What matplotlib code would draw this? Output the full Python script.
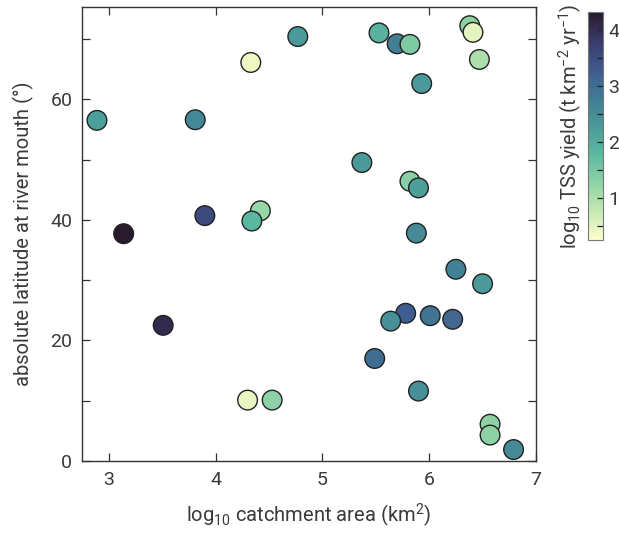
import matplotlib
matplotlib.use("Agg")
import matplotlib.pyplot as plt
import numpy as np
from matplotlib.colors import LinearSegmentedColormap, Normalize
from matplotlib.ticker import MultipleLocator

# data: log10 catchment area, absolute latitude, log10 TSS yield
log_area = [2.89, 3.14, 3.51, 3.81, 3.90, 4.33, 4.42, 4.34, 4.77, 4.30, 4.53,
            5.53, 5.70, 5.82, 6.38, 6.41, 6.47, 5.93, 5.37, 5.82, 5.90, 5.88,
            6.25, 6.50, 5.78, 5.64, 6.01, 6.22, 5.49, 5.90, 6.57, 6.57, 6.79]
latitude = [56.5, 37.7, 22.5, 56.6, 40.7, 66.1, 41.5, 39.8, 70.4, 10.1, 10.1,
            71.0, 69.2, 69.1, 72.2, 71.1, 66.6, 62.6, 49.5, 46.4, 45.3, 37.8,
            31.8, 29.4, 24.5, 23.2, 24.1, 23.5, 17.0, 11.6, 6.1, 4.3, 1.9]
tss_yield = [2.2, 4.3, 4.05, 2.6, 3.55, 0.4, 1.2, 1.8, 2.3, 0.45, 1.3,
             1.9, 2.75, 1.45, 1.3, 0.5, 1.0, 2.3, 2.3, 1.35, 2.2, 2.55,
             2.7, 2.3, 3.25, 2.45, 2.9, 3.1, 3.0, 2.45, 1.3, 1.3, 2.55]

plt.rcParams['font.family'] = ['Roboto', 'DejaVu Sans']
plt.rcParams['font.weight'] = 'normal'
plt.rcParams['mathtext.default'] = 'regular'
tc = '#3a3a3a'
plt.rcParams['text.color'] = tc
plt.rcParams['axes.labelcolor'] = tc
plt.rcParams['xtick.labelcolor'] = tc
plt.rcParams['ytick.labelcolor'] = tc

deep = LinearSegmentedColormap.from_list('deep', [
    (0.0, '#fdfecc'), (0.125, '#c6e9b2'), (0.25, '#8fd3a5'), (0.375, '#5cb9a0'),
    (0.5, '#4a9a99'), (0.625, '#417b94'), (0.75, '#3f5a8f'), (0.875, '#3b3a6a'),
    (1.0, '#281a2c')])

fig = plt.figure(figsize=(6.19, 5.33), dpi=100)
ax = fig.add_axes([82/619, 1-461/533, (536-82)/619, (461-7)/533])
cax = fig.add_axes([588/619, 1-240/533, 15/619, (240-12)/533])

norm = Normalize(vmin=0.25, vmax=4.33)
sc = ax.scatter(log_area, latitude, c=tss_yield, cmap=deep, norm=norm, s=200,
                edgecolors='#222222', linewidths=1.0, zorder=3, clip_on=False)

ax.set_xlim(2.75, 7.0)
ax.set_ylim(0, 75.3)
ax.xaxis.set_major_locator(MultipleLocator(1))
ax.yaxis.set_major_locator(MultipleLocator(20))
ax.yaxis.set_minor_locator(MultipleLocator(10))
ax.tick_params(which='both', direction='in', top=True, right=True, length=5.5,
               width=0.9, color='#333333', labelsize=14, pad=7)
for sp in ax.spines.values():
    sp.set_color('#333333')
    sp.set_linewidth(1.0)
ax.set_xlabel('log$_{10}$ catchment area (km$^2$)', fontsize=14.5, labelpad=9)
ax.set_ylabel('absolute latitude at river mouth (°)', fontsize=14.5, labelpad=12)

cb = fig.colorbar(sc, cax=cax)
cb.set_ticks([1, 2, 3, 4])
cb.ax.yaxis.set_minor_locator(MultipleLocator(0.5))
cb.ax.tick_params(which='both', direction='in', length=4, width=0.9, color='#222222',
                  labelsize=14, pad=4)
cb.outline.set_edgecolor('#777777')
cb.outline.set_linewidth(0.8)
cb.ax.yaxis.set_label_position('left')
cb.set_label('log$_{10}$ TSS yield (t km$^{-2}$ yr$^{-1}$)', fontsize=14.5, labelpad=3)

fig.savefig('out.png', dpi=100)
